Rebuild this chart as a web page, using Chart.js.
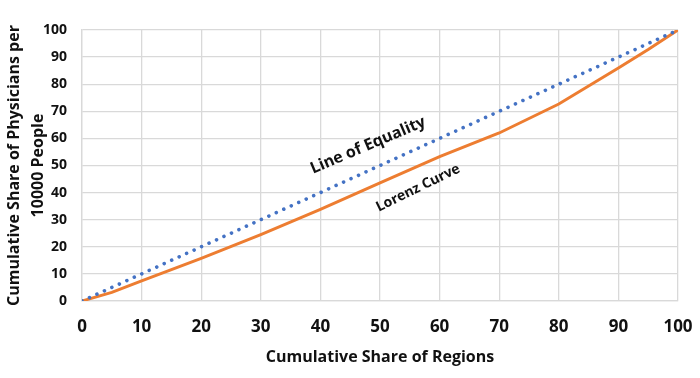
<!DOCTYPE html>
<html>
<head>
<meta charset="utf-8">
<script src="https://cdn.jsdelivr.net/npm/chart.js@4/dist/chart.umd.min.js"></script>
<style>
  html, body { margin: 0; padding: 0; background: #fff; }
  #wrap { width: 700px; height: 378px; }
</style>
</head>
<body>
<div id="wrap"><canvas id="c" width="700" height="378"></canvas></div>
<script>
const regionShare = [0, 5, 10, 20, 30, 40, 50, 60, 70, 80, 90, 95, 100];
const lorenzValues = [0, 3.2, 7.4, 15.7, 24.5, 33.8, 43.6, 53.3, 62.0, 72.7, 86.0, 92.8, 100];
const equalityX = [0, 100];
const equalityY = [0, 100];
const xTicks = [0, 10, 20, 30, 40, 50, 60, 70, 80, 90, 100];
const yTicks = [0, 10, 20, 30, 40, 50, 60, 70, 80, 90, 100];
const xTitle = 'Cumulative Share of Regions';
const yTitle = ['Cumulative Share of Physicians per', '10000 People'];
const labelTexts = ['Line of Equality', 'Lorenz Curve'];
const labelPos = [[48.0, 57.4], [56.4, 41.7]];

const FONT = '"Open Sans", Lato, sans-serif';

const labelPlugin = {
  id: 'curveLabels',
  afterDatasetsDraw(chart) {
    const ctx = chart.ctx;
    const xs = chart.scales.x, ys = chart.scales.y;
    const specs = [
      { size: 16, angle: -23 },
      { size: 14, angle: -26 }
    ];
    labelTexts.forEach((t, i) => {
      const px = xs.getPixelForValue(labelPos[i][0]);
      const py = ys.getPixelForValue(labelPos[i][1]);
      ctx.save();
      ctx.translate(px, py);
      ctx.rotate(specs[i].angle * Math.PI / 180);
      ctx.font = 'bold ' + specs[i].size + 'px ' + FONT;
      ctx.fillStyle = '#111';
      ctx.textAlign = 'center';
      ctx.textBaseline = 'middle';
      ctx.fillText(t, 0, 0);
      ctx.restore();
    });
  }
};

new Chart(document.getElementById('c'), {
  type: 'scatter',
  data: {
    datasets: [
      {
        label: 'Lorenz Curve',
        data: regionShare.map((x, i) => ({ x: x, y: lorenzValues[i] })),
        showLine: true,
        borderColor: '#ED7D31',
        backgroundColor: '#ED7D31',
        borderWidth: 3,
        pointRadius: 0,
        tension: 0,
        order: 2
      },
      {
        label: 'Line of Equality',
        data: equalityX.map((x, i) => ({ x: x, y: equalityY[i] })),
        showLine: true,
        borderColor: '#4472C4',
        backgroundColor: '#4472C4',
        borderWidth: 3.6,
        borderDash: [0.01, 8.2],
        borderCapStyle: 'round',
        pointRadius: 0,
        order: 1
      }
    ]
  },
  options: {
    responsive: false,
    animation: false,
    layout: { padding: { top: 30, right: 22, left: 0, bottom: 0 } },
    plugins: {
      legend: { display: false },
      tooltip: { enabled: false }
    },
    scales: {
      x: {
        type: 'linear',
        min: 0, max: 100,
        afterBuildTicks: (s) => { s.ticks = xTicks.map(v => ({ value: v })); },
        afterFit: (s) => { s.height = 77; s.paddingLeft = 0; s.paddingRight = 0; },
        grid: { color: '#d9d9d9', lineWidth: 1.3, drawTicks: false },
        border: { color: '#d9d9d9', width: 1.3 },
        ticks: { color: '#111', padding: 16, font: { family: FONT, size: 17, weight: 'bold' } },
        title: { display: true, text: xTitle, color: '#111', padding: { top: 6, bottom: 11 }, font: { family: FONT, size: 16, weight: 'bold' } }
      },
      y: {
        type: 'linear',
        min: 0, max: 100,
        afterBuildTicks: (s) => { s.ticks = yTicks.map(v => ({ value: v })); },
        afterFit: (s) => { s.width = 82; s.paddingTop = 0; s.paddingBottom = 0; },
        grid: { color: '#d9d9d9', lineWidth: 1.3, drawTicks: false },
        border: { color: '#d9d9d9', width: 1.3 },
        ticks: { color: '#111', padding: 15, font: { family: FONT, size: 14, weight: 'bold' } },
        title: { display: true, text: yTitle, color: '#111', padding: { top: 2, bottom: 0 }, font: { family: FONT, size: 16, weight: 'bold', lineHeight: 1.5 } }
      }
    }
  },
  plugins: [labelPlugin]
});
</script>
</body>
</html>
